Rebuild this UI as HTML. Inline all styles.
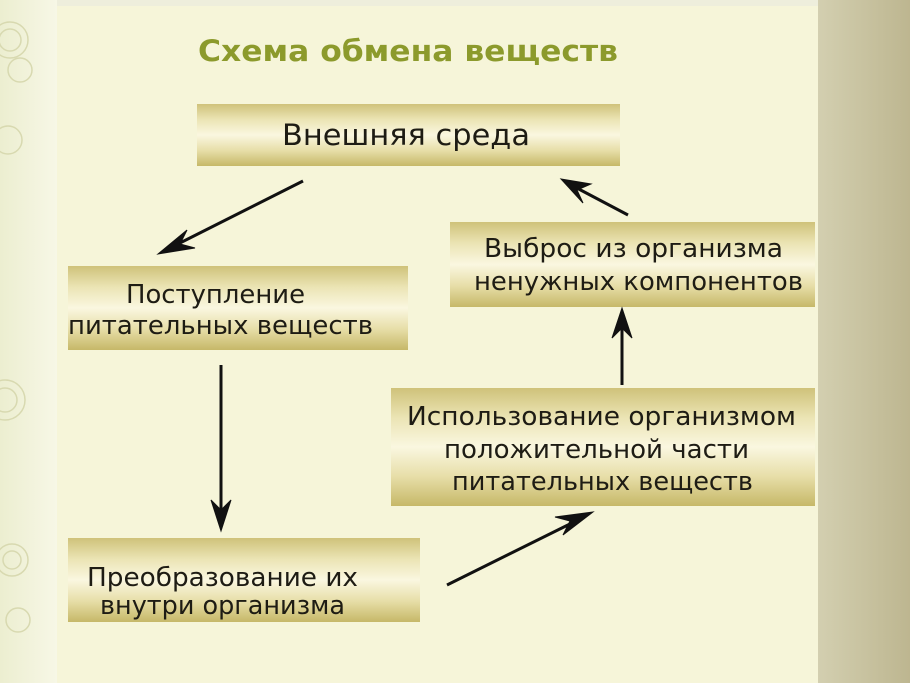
<!DOCTYPE html>
<html><head><meta charset="utf-8"><style>
html,body{margin:0;padding:0;width:910px;height:683px;overflow:hidden;background:#f0efd6}
svg{display:block}
text{font-family:"DejaVu Sans","Liberation Sans",sans-serif;fill:#1e1c14}
</style></head><body>
<svg width="910" height="683" viewBox="0 0 910 683">
<defs>
<linearGradient id="bx" x1="0" y1="0" x2="0" y2="1">
<stop offset="0" stop-color="#cfc27a"/>
<stop offset="0.25" stop-color="#ebe4b4"/>
<stop offset="0.5" stop-color="#faf7e0"/>
<stop offset="0.75" stop-color="#e7dea8"/>
<stop offset="1" stop-color="#c6b868"/>
</linearGradient>
<linearGradient id="rt" x1="0" y1="0" x2="1" y2="0">
<stop offset="0" stop-color="#d3cfb0"/>
<stop offset="1" stop-color="#bdb690"/>
</linearGradient>
<linearGradient id="lf" x1="0" y1="0" x2="1" y2="0">
<stop offset="0" stop-color="#eceed0"/>
<stop offset="1" stop-color="#f7f7e6"/>
</linearGradient>
</defs>
<rect x="0" y="0" width="910" height="683" fill="#eeeedc"/>
<rect x="0" y="0" width="57" height="683" fill="url(#lf)"/>
<g fill="none" stroke="#d8d9b0" stroke-width="1.5">
<circle cx="10" cy="40" r="18"/><circle cx="10" cy="40" r="11"/><circle cx="20" cy="70" r="12"/>
<circle cx="8" cy="140" r="14"/><circle cx="5" cy="400" r="20"/><circle cx="5" cy="400" r="12"/>
<circle cx="12" cy="560" r="16"/><circle cx="12" cy="560" r="9"/><circle cx="18" cy="620" r="12"/>
</g>
<rect x="818" y="0" width="92" height="683" fill="url(#rt)"/>
<rect x="57" y="6" width="761" height="677" fill="#f6f5d9"/>
<text x="198" y="61" font-size="29" font-weight="bold" style="fill:#8c9a2c" textLength="420" lengthAdjust="spacingAndGlyphs">Схема обмена веществ</text>

<rect x="197" y="104" width="423" height="62" fill="url(#bx)"/>
<rect x="68" y="266" width="340" height="84" fill="url(#bx)"/>
<rect x="450" y="222" width="365" height="85" fill="url(#bx)"/>
<rect x="391" y="388" width="424" height="118" fill="url(#bx)"/>
<rect x="68" y="538" width="352" height="84" fill="url(#bx)"/>

<g font-size="26">
<text x="282" y="145" textLength="248" lengthAdjust="spacingAndGlyphs" font-size="29">Внешняя среда</text>
<text x="126" y="303" textLength="179" lengthAdjust="spacingAndGlyphs">Поступление</text>
<text x="68" y="334" textLength="305" lengthAdjust="spacingAndGlyphs">питательных веществ</text>
<text x="484" y="257" textLength="299" lengthAdjust="spacingAndGlyphs">Выброс из организма</text>
<text x="474" y="290" textLength="329" lengthAdjust="spacingAndGlyphs">ненужных компонентов</text>
<text x="407" y="425" textLength="389" lengthAdjust="spacingAndGlyphs">Использование организмом</text>
<text x="444" y="458" textLength="305" lengthAdjust="spacingAndGlyphs">положительной части</text>
<text x="452" y="490" textLength="301" lengthAdjust="spacingAndGlyphs">питательных веществ</text>
<text x="87" y="586" textLength="271" lengthAdjust="spacingAndGlyphs">Преобразование их</text>
<text x="100" y="614" textLength="245" lengthAdjust="spacingAndGlyphs">внутри организма</text>
</g>

<g stroke="#111" stroke-width="3" fill="#111">
<line x1="303" y1="181" x2="170" y2="248"/>
<polygon points="158,254 187,230 180,244 195,248" stroke-width="1"/>
<line x1="221" y1="365" x2="221" y2="515"/>
<polygon points="221,531 211,500 221,510 231,500" stroke-width="1"/>
<line x1="447" y1="585" x2="580" y2="519"/>
<polygon points="593,512 563,535 570,521 555,517" stroke-width="1"/>
<line x1="622" y1="385" x2="622" y2="322"/>
<polygon points="622,308 612,338 622,328 632,338" stroke-width="1"/>
<line x1="628" y1="215" x2="573" y2="186"/>
<polygon points="561,179 591,184 577,190 583,203" stroke-width="1"/>
</g>
</svg>
</body></html>
